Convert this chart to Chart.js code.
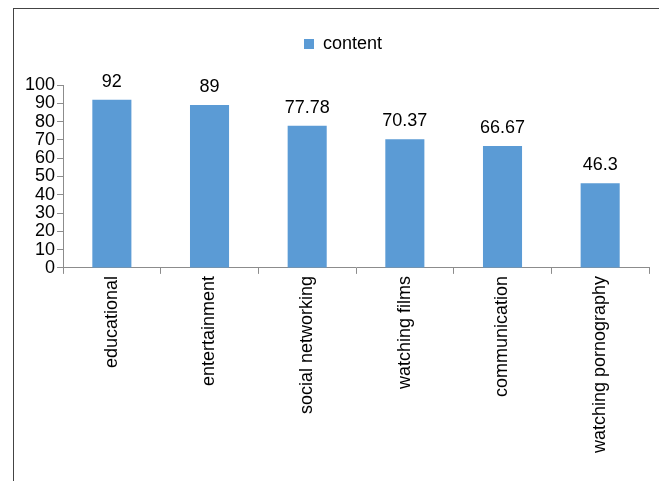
<!DOCTYPE html>
<html>
<head>
<meta charset="utf-8">
<script src="https://cdn.jsdelivr.net/npm/chart.js@4"></script>
<style>
  html, body { margin: 0; padding: 0; background: #fff; overflow: hidden; }
  #wrap { position: relative; width: 659px; height: 481px; }
</style>
</head>
<body>
<div id="wrap"><canvas id="contentChart" width="659" height="481"></canvas></div>
<script>
const categories = ["educational", "entertainment", "social networking", "watching films", "communication", "watching pornography"];
const contentValues = [92, 89, 77.78, 70.37, 66.67, 46.3];
const yTicks = [0, 10, 20, 30, 40, 50, 60, 70, 80, 90, 100];

const FONT = "'Liberation Sans', Arial, sans-serif";
const AXIS_GRAY = "#8c8c8c";

// outer frame of the picture
const framePlugin = {
  id: "frame",
  beforeDraw(chart) {
    const ctx = chart.ctx;
    ctx.save();
    ctx.fillStyle = "#fff";
    ctx.fillRect(0, 0, chart.width, chart.height);
    ctx.strokeStyle = "#444";
    ctx.lineWidth = 1;
    ctx.strokeRect(13.5, 8.5, 800, 800);
    ctx.restore();
  }
};

// value labels above the bars
const valueLabels = {
  id: "valueLabels",
  afterDatasetsDraw(chart) {
    const ctx = chart.ctx;
    const meta = chart.getDatasetMeta(0);
    ctx.save();
    ctx.font = "18px " + FONT;
    ctx.fillStyle = "#000";
    ctx.textAlign = "center";
    ctx.textBaseline = "alphabetic";
    meta.data.forEach((bar, i) => {
      ctx.fillText(String(contentValues[i]), bar.x, bar.y - 13);
    });
    ctx.restore();
  }
};

// extra room below the legend, and nudge it a bit right
const legendTweak = {
  id: "legendTweak",
  beforeInit(chart) {
    const legend = chart.legend;
    const fit = legend.fit;
    legend.fit = function () {
      fit.call(this);
      this.height += 22;
    };
    const draw = legend.draw;
    legend.draw = function () {
      chart.ctx.save();
      chart.ctx.translate(7, 0);
      draw.call(this);
      chart.ctx.restore();
    };
  }
};

new Chart(document.getElementById("contentChart"), {
  type: "bar",
  data: {
    labels: categories,
    datasets: [{
      label: "content",
      data: contentValues,
      backgroundColor: "#5B9BD5",
      borderWidth: 0,
      categoryPercentage: 1,
      barPercentage: 0.4
    }]
  },
  options: {
    responsive: false,
    animation: false,
    layout: { padding: { top: 25, left: 23, right: 10, bottom: 26 } },
    plugins: {
      legend: {
        position: "top",
        labels: {
          color: "#000",
          font: { family: FONT, size: 18 },
          boxWidth: 10,
          boxHeight: 10,
          padding: 10
        }
      },
      tooltip: { enabled: false }
    },
    scales: {
      x: {
        offset: true,
        grid: { display: true, drawOnChartArea: false, drawTicks: true, tickLength: 6, color: AXIS_GRAY, offset: true },
        border: { color: AXIS_GRAY, width: 1 },
        ticks: {
          color: "#000",
          font: { family: FONT, size: 18 },
          minRotation: 90,
          maxRotation: 90,
          autoSkip: false,
          padding: 2
        }
      },
      y: {
        min: 0,
        max: 100,
        afterBuildTicks(axis) { axis.ticks = yTicks.map(v => ({ value: v })); },
        grid: { display: true, drawOnChartArea: false, drawTicks: true, tickLength: 6, color: AXIS_GRAY },
        border: { color: AXIS_GRAY, width: 1 },
        ticks: {
          color: "#000",
          font: { family: FONT, size: 18 },
          autoSkip: false,
          padding: 2
        }
      }
    }
  },
  plugins: [framePlugin, valueLabels, legendTweak]
});
</script>
</body>
</html>
